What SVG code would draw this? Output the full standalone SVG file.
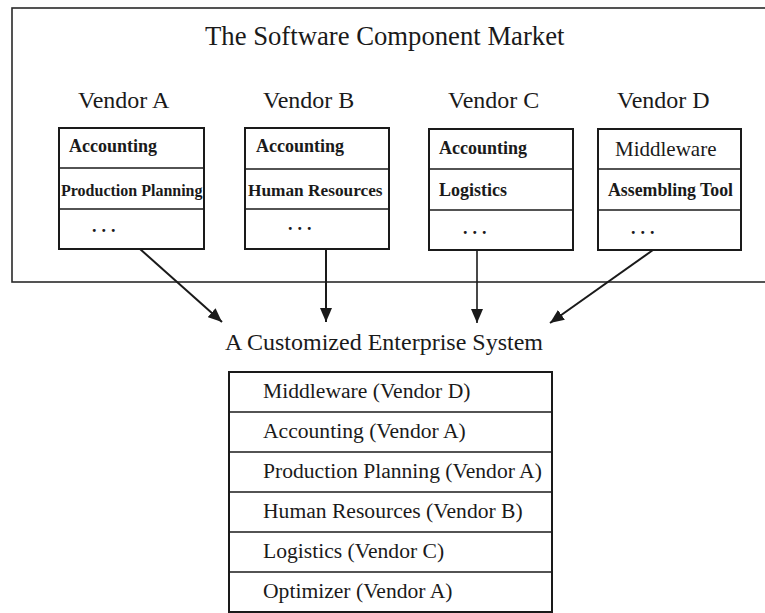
<svg xmlns="http://www.w3.org/2000/svg" width="765" height="613" viewBox="0 0 765 613">
  <style>
    text { font-family: "Liberation Serif", "Times New Roman", serif; fill: #1a1a1a; }
    .title { font-size: 26.7px; }
    .vendor { font-size: 24px; }
    .item { font-size: 18px; font-weight: bold; }
    .dots { font-size: 18px; font-weight: bold; letter-spacing: 5px; }
    .sys { font-size: 21.6px; }
    .box { fill: #fff; stroke: #1a1a1a; stroke-width: 2; }
    .div { stroke: #1a1a1a; stroke-width: 1.6; }
    .frame { fill: none; stroke: #2a2a2a; stroke-width: 1.6; }
    .conn { stroke: #1a1a1a; stroke-width: 2; fill: none; marker-end: url(#arrow); }
  </style>
  <defs>
    <marker id="arrow" markerUnits="userSpaceOnUse" markerWidth="14" markerHeight="12" viewBox="0 0 14 12" refX="14" refY="6" orient="auto">
      <path d="M0,0 L14,6 L0,12 Z" fill="#1a1a1a"/>
    </marker>
  </defs>

  <rect width="765" height="613" fill="#fff"/>

  <!-- market frame (open on the right, runs off the page) -->
  <rect class="frame" x="12" y="8" width="800" height="274"/>
  <text class="title" x="205" y="45">The Software Component Market</text>

  <g id="vendor-a">
    <text class="vendor" x="78" y="108">Vendor A</text>
    <rect class="box" x="59" y="128" width="145" height="121"/>
    <line class="div" x1="59" y1="168" x2="204" y2="168"/>
    <line class="div" x1="59" y1="209" x2="204" y2="209"/>
    <text class="item" x="69" y="152">Accounting</text>
    <text class="item" x="61" y="196" style="font-size:16px">Production Planning</text>
    <text class="dots" x="92" y="232">...</text>
  </g>

  <g id="vendor-b">
    <text class="vendor" x="263" y="108">Vendor B</text>
    <rect class="box" x="245" y="128" width="144" height="121"/>
    <line class="div" x1="245" y1="169" x2="389" y2="169"/>
    <line class="div" x1="245" y1="209" x2="389" y2="209"/>
    <text class="item" x="256" y="152">Accounting</text>
    <text class="item" x="248" y="196" style="font-size:17.3px">Human Resources</text>
    <text class="dots" x="288" y="230">...</text>
  </g>

  <g id="vendor-c">
    <text class="vendor" x="448" y="108">Vendor C</text>
    <rect class="box" x="429" y="129" width="144" height="121"/>
    <line class="div" x1="429" y1="169" x2="573" y2="169"/>
    <line class="div" x1="429" y1="210" x2="573" y2="210"/>
    <text class="item" x="439" y="154">Accounting</text>
    <text class="item" x="439" y="196">Logistics</text>
    <text class="dots" x="463" y="234">...</text>
  </g>

  <g id="vendor-d">
    <text class="vendor" x="617" y="108">Vendor D</text>
    <rect class="box" x="598" y="129" width="143" height="121"/>
    <line class="div" x1="598" y1="169" x2="741" y2="169"/>
    <line class="div" x1="598" y1="210" x2="741" y2="210"/>
    <text class="item" x="615" y="156" style="font-weight:normal;font-size:21px">Middleware</text>
    <text class="item" x="608" y="196" style="font-size:17.8px">Assembling Tool</text>
    <text class="dots" x="631" y="234">...</text>
  </g>

  <g id="connectors">
    <line class="conn" x1="140" y1="249" x2="222" y2="322"/>
    <line class="conn" x1="326" y1="249" x2="326" y2="322"/>
    <line class="conn" x1="477" y1="250" x2="477" y2="323" style="stroke-width:1.6"/>
    <line class="conn" x1="653" y1="250" x2="550" y2="323"/>
  </g>

  <g id="enterprise-system">
    <text class="vendor" x="225" y="350">A Customized Enterprise System</text>
    <rect class="box" x="229" y="372" width="323" height="240"/>
    <line class="div" x1="229" y1="412" x2="552" y2="412"/>
    <line class="div" x1="229" y1="452" x2="552" y2="452"/>
    <line class="div" x1="229" y1="492" x2="552" y2="492"/>
    <line class="div" x1="229" y1="532" x2="552" y2="532"/>
    <line class="div" x1="229" y1="572" x2="552" y2="572"/>
    <text class="sys" x="263" y="398">Middleware (Vendor D)</text>
    <text class="sys" x="263" y="438">Accounting (Vendor A)</text>
    <text class="sys" x="263" y="478">Production Planning (Vendor A)</text>
    <text class="sys" x="263" y="518">Human Resources (Vendor B)</text>
    <text class="sys" x="263" y="558">Logistics (Vendor C)</text>
    <text class="sys" x="263" y="598">Optimizer (Vendor A)</text>
  </g>
</svg>
